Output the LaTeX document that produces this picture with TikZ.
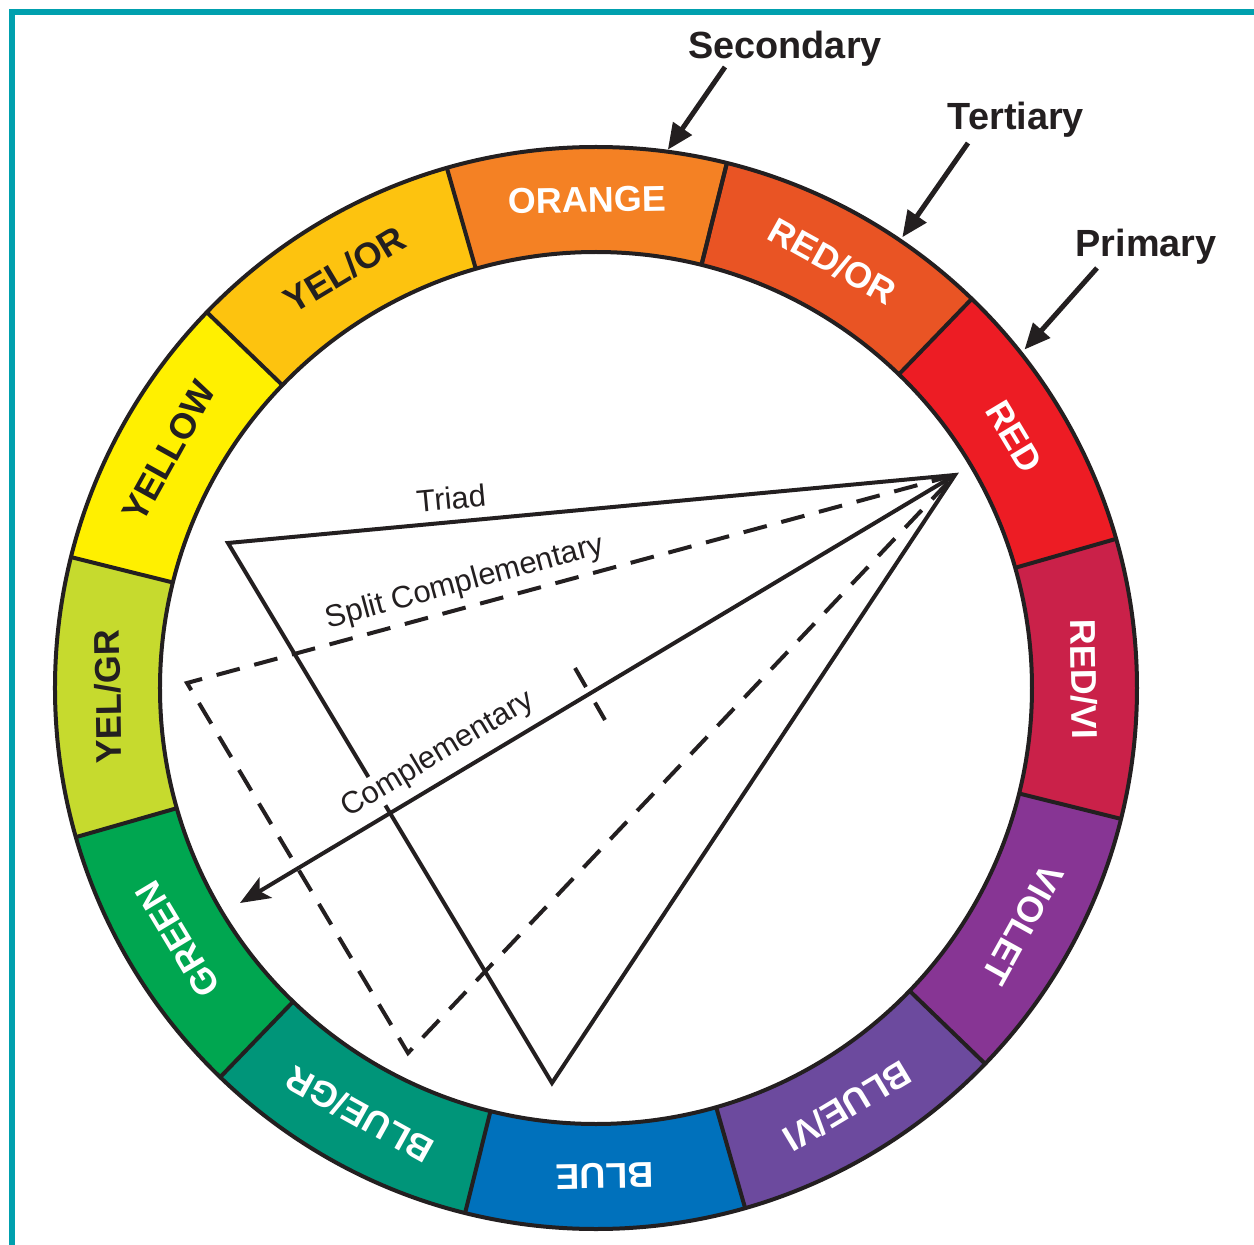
\documentclass[tikz,border=0pt]{standalone}
\usepackage{fontspec}
\setmainfont{Liberation Sans}
\usepackage{tikz}
\usetikzlibrary{arrows.meta, positioning}

\definecolor{ink}{HTML}{231F20}
\definecolor{frameTeal}{HTML}{00A0AE}
\definecolor{cwOrange}{HTML}{F48124}
\definecolor{cwRedOr}{HTML}{E95424}
\definecolor{cwRed}{HTML}{ED1C24}
\definecolor{cwRedVi}{HTML}{CA2149}
\definecolor{cwViolet}{HTML}{873594}
\definecolor{cwBlueVi}{HTML}{6C4A9E}
\definecolor{cwBlue}{HTML}{0071BC}
\definecolor{cwBlueGr}{HTML}{009579}
\definecolor{cwGreen}{HTML}{00A650}
\definecolor{cwYelGr}{HTML}{C6DA2E}
\definecolor{cwYellow}{HTML}{FFF000}
\definecolor{cwYelOr}{HTML}{FDC30F}

\begin{document}
\begin{tikzpicture}[x=1bp, y=1bp]
\tikzstyle{ring} = [draw=ink, line width=4bp]
\tikzstyle{seglabel} = [font=\bfseries\fontsize{36}{36}\selectfont, inner sep=0pt]
\tikzstyle{callout} = [font=\bfseries\fontsize{38}{38}\selectfont, text=ink, anchor=base]
\tikzstyle{harmony} = [font=\fontsize{31}{31}\selectfont, text=ink]
\tikzstyle{line} = [draw=ink, line width=4bp, line join=miter]
\tikzstyle{dashline} = [line, dash pattern=on 24bp off 15bp]
\tikzstyle{arrow} = [draw=ink, fill=ink, line width=5bp, -{Triangle[length=26bp, width=22bp]}]

\useasboundingbox (-596,-557) rectangle (658,688);

% frame
\draw[frameTeal, line width=5.5bp] (-584,-557) -- (-584,676) -- (658,676);

% colour ring
\coordinate (hub) at (0,0);
\foreach \ang/\col in {91/cwOrange, 61/cwRedOr, 31/cwRed, 1/cwRedVi, -29/cwViolet, -59/cwBlueVi,
    -89/cwBlue, -119/cwBlueGr, -149/cwGreen, -179/cwYelGr, -209/cwYellow, -239/cwYelOr}
  \fill[\col] (\ang-15:436) arc[start angle=\ang-15, end angle=\ang+15, radius=436]
    -- (\ang+15:541) arc[start angle=\ang+15, end angle=\ang-15, radius=541] -- cycle;
\foreach \ang in {76,46,...,-284}
  \draw[ring] (\ang:436) -- (\ang:541);
\draw[ring] (hub) circle[radius=541];
\draw[ring] (hub) circle[radius=436];

\foreach \ang/\txt/\tc [count=\i] in {91/ORANGE/white, 61/{RED/OR}/white, 31/RED/white,
    1/{RED/VI}/white, -29/VIOLET/white, -59/{BLUE/VI}/white, -89/BLUE/white,
    -119/{BLUE/GR}/white, -149/GREEN/white, -179/{YEL/GR}/ink, -209/YELLOW/ink, -239/{YEL/OR}/ink}
  \node[seglabel, text=\tc, rotate=\ang-90] (seg\i) at (\ang:488) {\txt};

% harmonies
\coordinate (apex) at (359,213);
\coordinate (triL) at (-368,145);
\coordinate (triB) at (-44,-395);
\coordinate (splitL) at (-409,5);
\coordinate (splitB) at (-188,-365);
\coordinate (compEnd) at (-356,-215);
\coordinate (tickA) at (-21,20);
\coordinate (tickB) at (9,-32);

\draw[line] (apex) -- (triL) -- (triB) -- cycle;
\draw[dashline] (apex) -- (splitL) -- (splitB) -- cycle;
\draw[line, -{Stealth[length=30bp, width=24bp, inset=7bp]}] (apex) -- (compEnd);
\draw[line, dash pattern=on 22bp off 18bp] (tickA) -- (tickB);

\path (triL) -- (apex) node[harmony, sloped, above=9bp, pos=0.31] (triadlbl) {Triad};
\path (splitL) -- (apex) node[harmony, sloped, above=6bp, pos=0.37] (splitlbl) {Split Complementary};
\path (compEnd) -- (apex) node[harmony, sloped, above=9bp, pos=0.295, fill=white, inner sep=2bp] (complbl) {Complementary};

% callouts
\node[callout] (secondary) at (189,629) {Secondary};
\node[callout] (tertiary) at (420,558) {Tertiary};
\node[callout] (primary) at (550,431) {Primary};

\coordinate (secPt) at (82.4:543);
\coordinate (terPt) at (55.8:545);
\coordinate (priPt) at (38.3:546);

\draw[arrow] ([shift={(-60,-8)}]secondary.base) -- (secPt);
\draw[arrow] ([shift={(-48,-13)}]tertiary.base) -- (terPt);
\draw[arrow] ([shift={(-49,-11)}]primary.base) -- (priPt);
\end{tikzpicture}
\end{document}
